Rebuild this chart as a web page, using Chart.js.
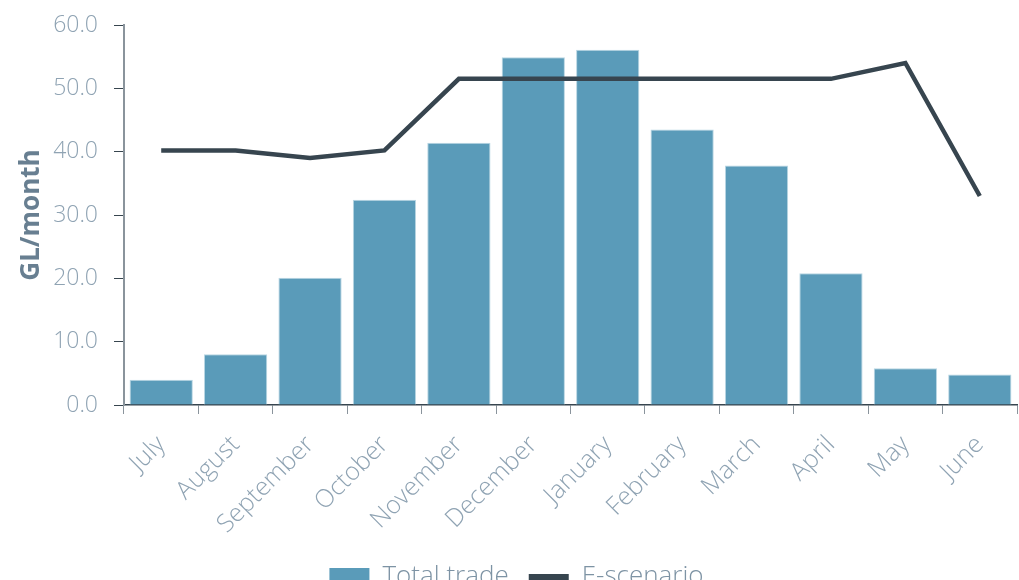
<!DOCTYPE html>
<html>
<head>
<meta charset="utf-8">
<script src="https://cdn.jsdelivr.net/npm/chart.js@4"></script>
<style>
  html, body { margin: 0; padding: 0; background: #ffffff; overflow: hidden; width: 1019px; height: 580px; }
  #wrap { position: relative; width: 1019px; height: 600px; }
</style>
</head>
<body>
<div id="wrap"><canvas id="chart"></canvas></div>
<script>
const months = ['July', 'August', 'September', 'October', 'November', 'December',
                'January', 'February', 'March', 'April', 'May', 'June'];
const totalTrade = [4.0, 8.0, 20.1, 32.4, 41.4, 54.9, 56.1, 43.5, 37.8, 20.8, 5.8, 4.8];
const eScenario  = [40.2, 40.2, 39.0, 40.2, 51.5, 51.5, 51.5, 51.5, 51.5, 51.5, 54.0, 33.0];
const yTicks = [0, 10, 20, 30, 40, 50, 60];

const FONT = "'Open Sans', 'Noto Sans', sans-serif";
const labelColor = '#8fa3b3';
const barColor = '#5a9bb9';
const lineColor = '#37454f';

new Chart(document.getElementById('chart'), {
  data: {
    labels: months,
    datasets: [
      {
        type: 'line',
        label: 'E-scenario',
        data: eScenario,
        borderColor: lineColor,
        backgroundColor: lineColor,
        borderWidth: 4.5,
        pointRadius: 0,
        pointStyle: 'line',
        tension: 0,
        order: 0
      },
      {
        type: 'bar',
        label: 'Total trade',
        data: totalTrade,
        backgroundColor: barColor,
        borderColor: '#b9d6e3',
        borderWidth: 1,
        pointStyle: 'rect',
        categoryPercentage: 1.0,
        barPercentage: 0.85,
        order: 1
      }
    ]
  },
  options: {
    responsive: true,
    maintainAspectRatio: false,
    animation: false,
    layout: { padding: { top: 25, right: 2, left: 16, bottom: 0 } },
    plugins: {
      tooltip: { enabled: false },
      legend: {
        position: 'bottom',
        reverse: true,
        labels: {
          font: { family: FONT, size: 26, weight: 300 },
          color: '#7d93a4',
          usePointStyle: true,
          pointStyleWidth: 40,
          boxHeight: 18,
          padding: 20,
          generateLabels(chart) {
            const items = Chart.defaults.plugins.legend.labels.generateLabels(chart);
            items.forEach(it => {
              const ds = chart.data.datasets[it.datasetIndex];
              if (ds.type === 'line') {
                it.pointStyle = 'line';
                it.lineWidth = 6;
                it.strokeStyle = lineColor;
              } else {
                it.pointStyle = 'rect';
                it.lineWidth = 0;
                it.strokeStyle = barColor;
              }
            });
            return items;
          }
        }
      }
    },
    scales: {
      x: {
        offset: true,
        afterFit(scale) { scale.height = 139; },
        grid: {
          offset: true,
          display: true,
          drawOnChartArea: false,
          drawTicks: true,
          tickLength: 9,
          color: '#8a949c',
          lineWidth: 1
        },
        border: { display: true, color: '#37454f', width: 1.5 },
        ticks: {
          font: { family: FONT, size: 25, weight: 300 },
          color: labelColor,
          minRotation: 45,
          maxRotation: 45,
          padding: 16
        }
      },
      y: {
        min: 0,
        max: 60,
        afterFit(scale) {
          scale.width = 108;
          scale.paddingTop = 0;
          scale.paddingBottom = 0;
        },
        afterBuildTicks(scale) { scale.ticks = yTicks.map(v => ({ value: v })); },
        grid: {
          display: true,
          drawOnChartArea: false,
          drawTicks: true,
          tickLength: 10,
          color: '#37454f',
          lineWidth: 1
        },
        border: { display: true, color: '#8a949c', width: 2 },
        ticks: {
          font: { family: FONT, size: 23, weight: 300 },
          color: labelColor,
          padding: 16,
          callback: v => Number(v).toFixed(1)
        },
        title: {
          display: true,
          text: 'GL/month',
          font: { family: FONT, size: 26, weight: 'bold' },
          color: '#687f91',
          padding: { top: 0, bottom: 4 }
        }
      }
    }
  }
});
</script>
</body>
</html>
